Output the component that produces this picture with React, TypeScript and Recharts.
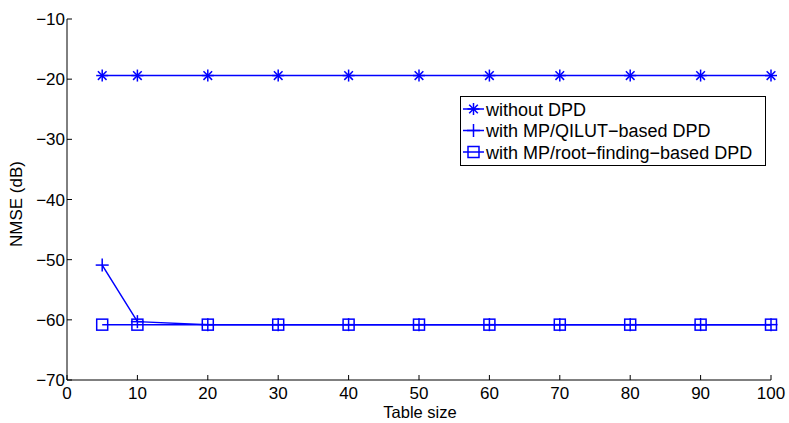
import React from 'react'
import { LineChart, Line, XAxis, YAxis } from 'recharts'

const tableSizes = [5, 10, 20, 30, 40, 50, 60, 70, 80, 90, 100]
const withoutDpd = [-19.4, -19.4, -19.4, -19.4, -19.4, -19.4, -19.4, -19.4, -19.4, -19.4, -19.4]
const qilutDpd = [-50.9, -60.3, -60.8, -60.8, -60.8, -60.8, -60.8, -60.8, -60.8, -60.8, -60.8]
const rootFindingDpd = [-60.8, -60.8, -60.8, -60.8, -60.8, -60.8, -60.8, -60.8, -60.8, -60.8, -60.8]
const xTicks = [0, 10, 20, 30, 40, 50, 60, 70, 80, 90, 100]
const yTicks = [-70, -60, -50, -40, -30, -20, -10]

const BLUE = '#0000ff'
const FONT = '"Liberation Sans", Arial, Helvetica, sans-serif'

const data = tableSizes.map((x, i) => ({
    x,
    without: withoutDpd[i],
    qilut: qilutDpd[i],
    root: rootFindingDpd[i],
}))

const fmt = (v: number) => String(v).replace('-', '\u2212')

const StarMark = ({ cx, cy, r = 6 }: any) => {
    const d = r * 0.72
    return (
        <g stroke={BLUE} strokeWidth={1.5}>
            <line x1={cx - r} y1={cy} x2={cx + r} y2={cy} />
            <line x1={cx} y1={cy - r} x2={cx} y2={cy + r} />
            <line x1={cx - d} y1={cy - d} x2={cx + d} y2={cy + d} />
            <line x1={cx - d} y1={cy + d} x2={cx + d} y2={cy - d} />
        </g>
    )
}

const PlusMark = ({ cx, cy, r = 6.5 }: any) => (
    <g stroke={BLUE} strokeWidth={1.5}>
        <line x1={cx - r} y1={cy} x2={cx + r} y2={cy} />
        <line x1={cx} y1={cy - r} x2={cx} y2={cy + r} />
    </g>
)

const SquareMark = ({ cx, cy, r = 5.5 }: any) => (
    <rect x={cx - r} y={cy - r} width={2 * r} height={2 * r} fill="none" stroke={BLUE} strokeWidth={1.5} />
)

const XTick = ({ x, y, payload, top }: any) => (
    <g>
        <line x1={x} y1={y} x2={x} y2={top ? y + 5 : y - 5} stroke="#000" />
        {!top && (
            <text x={x} y={y + 19} textAnchor="middle" fontSize={17} fontFamily={FONT} fill="#000">
                {fmt(payload.value)}
            </text>
        )}
    </g>
)

const YTick = ({ x, y, payload, right }: any) => (
    <g>
        <line x1={x} y1={y} x2={right ? x - 5 : x + 5} y2={y} stroke="#000" />
        {!right && (
            <text x={x - 2} y={y + 6} textAnchor="end" fontSize={17} fontFamily={FONT} fill="#000">
                {fmt(payload.value)}
            </text>
        )}
    </g>
)

const legendItems = [
    { name: 'without DPD', Mark: StarMark },
    { name: 'with MP/QILUT\u2212based DPD', Mark: PlusMark },
    { name: 'with MP/root\u2212finding\u2212based DPD', Mark: SquareMark },
]

// MATLAB-style legend box sitting inside the plot area
const LegendBox = () => (
    <svg width={307} height={71} style={{ position: 'absolute', left: 460, top: 96 }}>
        <rect x={0.5} y={0.5} width={305} height={69} fill="#fff" stroke="#000" />
        {legendItems.map(({ name, Mark }, i) => {
            const cy = 13 + i * 21.5
            return (
                <g key={i}>
                    <line x1={3} y1={cy} x2={24} y2={cy} stroke={BLUE} strokeWidth={1.5} />
                    <Mark cx={13.5} cy={cy} />
                    <text x={26} y={cy + 6.5} fontSize={18} fontFamily={FONT} fill="#000">
                        {name}
                    </text>
                </g>
            )
        })}
    </svg>
)

export default function App() {
    return (
        <div style={{ position: 'fixed', left: 0, top: 0, width: 789, height: 423, background: '#fff' }}>
            <LineChart width={789} height={423} data={data} margin={{ top: 19, right: 18, bottom: 13, left: 7 }}>
                <XAxis
                    dataKey="x"
                    type="number"
                    domain={[0, 100]}
                    ticks={xTicks}
                    interval={0}
                    height={30}
                    tickLine={false}
                    tickSize={0}
                    tickMargin={0}
                    axisLine={{ stroke: '#000' }}
                    tick={<XTick />}
                />
                <XAxis
                    xAxisId="top"
                    orientation="top"
                    dataKey="x"
                    type="number"
                    domain={[0, 100]}
                    ticks={xTicks}
                    interval={0}
                    height={0}
                    tickLine={false}
                    tickSize={0}
                    tickMargin={0}
                    axisLine={{ stroke: '#000' }}
                    tick={<XTick top />}
                />
                <YAxis
                    type="number"
                    domain={[-70, -10]}
                    ticks={yTicks}
                    interval={0}
                    width={60}
                    tickLine={false}
                    tickSize={0}
                    tickMargin={0}
                    axisLine={{ stroke: '#000' }}
                    tick={<YTick />}
                />
                <YAxis
                    yAxisId="right"
                    orientation="right"
                    type="number"
                    domain={[-70, -10]}
                    ticks={yTicks}
                    interval={0}
                    width={0}
                    tickLine={false}
                    tickSize={0}
                    tickMargin={0}
                    axisLine={{ stroke: '#000' }}
                    tick={<YTick right />}
                />
                <Line
                    dataKey="without"
                    name="without DPD"
                    stroke={BLUE}
                    strokeWidth={1.5}
                    dot={(p: any) => <StarMark key={`s-${p.index}`} cx={p.cx} cy={p.cy} />}
                    isAnimationActive={false}
                />
                <Line
                    dataKey="qilut"
                    name="with MP/QILUT-based DPD"
                    stroke={BLUE}
                    strokeWidth={1.5}
                    dot={(p: any) => <PlusMark key={`p-${p.index}`} cx={p.cx} cy={p.cy} />}
                    isAnimationActive={false}
                />
                <Line
                    dataKey="root"
                    name="with MP/root-finding-based DPD"
                    stroke={BLUE}
                    strokeWidth={1.5}
                    dot={(p: any) => <SquareMark key={`q-${p.index}`} cx={p.cx} cy={p.cy} />}
                    isAnimationActive={false}
                />
                <text x={420} y={418} textAnchor="middle" fontSize={16.5} fontFamily={FONT} fill="#000">
                    Table size
                </text>
                <text
                    x={22}
                    y={204}
                    textAnchor="middle"
                    fontSize={17}
                    fontFamily={FONT}
                    fill="#000"
                    transform="rotate(-90 22 204)"
                >
                    NMSE (dB)
                </text>
            </LineChart>
            <LegendBox />
        </div>
    )
}
